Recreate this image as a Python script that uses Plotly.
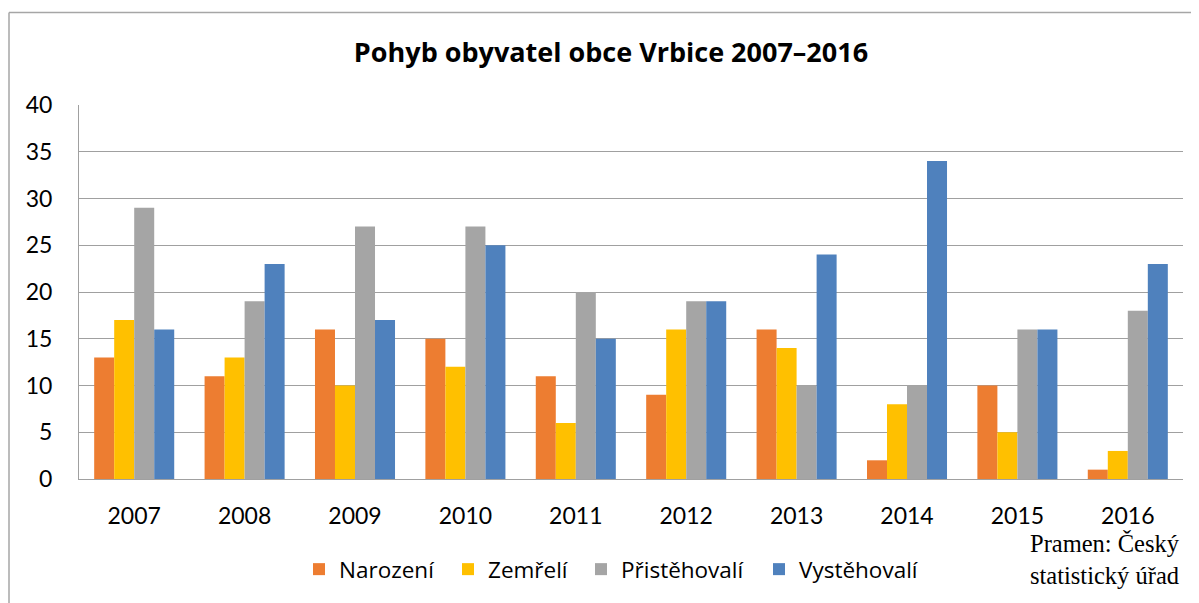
import plotly.graph_objects as go

years = ["2007", "2008", "2009", "2010", "2011", "2012", "2013", "2014", "2015", "2016"]
narozeni = [13, 11, 16, 15, 11, 9, 16, 2, 10, 1]
zemreli = [17, 13, 10, 12, 6, 16, 14, 8, 5, 3]
pristehovali = [29, 19, 27, 27, 20, 19, 10, 10, 16, 18]
vystehovali = [16, 23, 17, 25, 15, 19, 24, 34, 16, 23]

series_names = ["Narození", "Zemřelí", "Přistěhovalí", "Vystěhovalí"]
series_values = [narozeni, zemreli, pristehovali, vystehovali]
series_colors = ["#ED7D31", "#FFC000", "#A5A5A5", "#4F81BD"]

OFF = 8  # page body margin
W, H = 1191, 595
L, R, T, B = 71, 16, 97, 122
pw, ph = W - L - R, H - T - B

def px(x):
    return (x - OFF - L) / pw

def py(y):
    return (H - B - (y - OFF)) / ph

legend_ids = ["legend", "legend2", "legend3", "legend4"]
legend_x = [299, 448, 581, 759]

fig = go.Figure()
for name, vals, col, lid in zip(series_names, series_values, series_colors, legend_ids):
    fig.add_trace(go.Bar(x=years, y=vals, name=name, legend=lid,
                         marker=dict(color=col, line=dict(width=0))))

legend_layout = {}
for lid, lx in zip(legend_ids, legend_x):
    legend_layout[lid] = dict(orientation="h", x=px(lx), xanchor="left", y=py(572), yanchor="middle",
                              font=dict(size=22.5, family="Open Sans"), itemwidth=30,
                              bgcolor="rgba(0,0,0,0)")

fig.update_layout(
    width=W, height=H,
    margin=dict(l=L, r=R, t=T, b=B),
    paper_bgcolor="white", plot_bgcolor="white",
    barmode="group", bargap=0.275, bargroupgap=0,
    font=dict(family="Lato", color="#000000"),
    title=dict(text="<b>Pohyb obyvatel obce Vrbice 2007–2016</b>", x=(611 - OFF) / W, xanchor="center",
               y=1 - (53 - OFF) / H, yanchor="middle", font=dict(size=27, family="Open Sans", color="#000000")),
    showlegend=True,
    xaxis=dict(showgrid=False, showline=True, linecolor="#A0A0A0", linewidth=1,
               tickfont=dict(size=23), ticks="", ticklabelstandoff=16, fixedrange=True),
    yaxis=dict(range=[0, 40], dtick=5, showgrid=True, gridcolor="#A0A0A0", gridwidth=1,
               showline=True, linecolor="#A0A0A0", linewidth=1, zeroline=False,
               tickfont=dict(size=23), ticks="", ticklabelstandoff=21, fixedrange=True),
    annotations=[dict(text="Pramen: Český<br>statistický úřad", xref="paper", yref="paper",
                      x=px(1028), y=py(562), xanchor="left", yanchor="middle", align="left",
                      showarrow=False, font=dict(family="Liberation Serif", size=24.5, color="#000000"))],
    shapes=[
        dict(type="line", xref="paper", yref="paper", x0=px(9), x1=px(1300), y0=py(12), y1=py(12),
             line=dict(color="#A6A6A6", width=1.5)),
        dict(type="line", xref="paper", yref="paper", x0=px(9), x1=px(9), y0=py(12), y1=py(700),
             line=dict(color="#A6A6A6", width=1.5)),
    ],
    **legend_layout,
)

fig.write_html("out.html")
